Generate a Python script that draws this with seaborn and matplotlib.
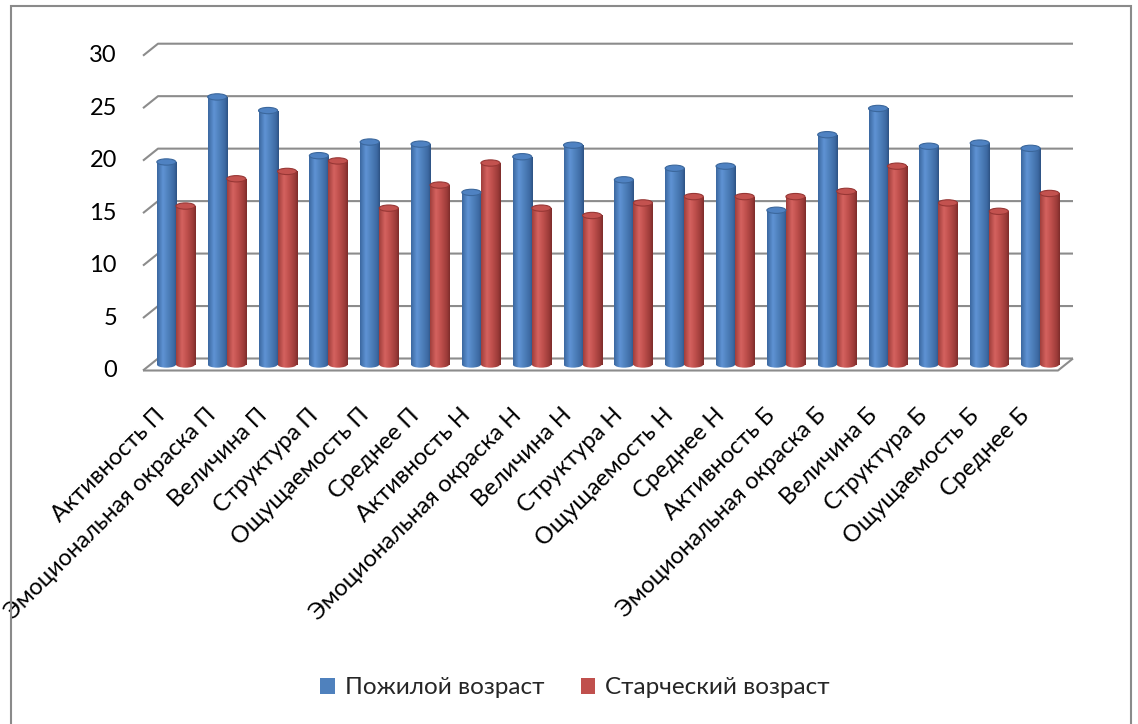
import matplotlib
matplotlib.use("Agg")
import matplotlib.pyplot as plt
import matplotlib.transforms as mtransforms
from matplotlib.colors import LinearSegmentedColormap
from matplotlib.patches import Ellipse, Rectangle, Patch
import numpy as np
import pandas as pd
import seaborn as sns

# ---- data -------------------------------------------------------------
categories = [
    "Активность П", "Эмоциональная окраска П", "Величина П", "Структура П",
    "Ощущаемость П", "Среднее П",
    "Активность Н", "Эмоциональная окраска Н", "Величина Н", "Структура Н",
    "Ощущаемость Н", "Среднее Н",
    "Активность Б", "Эмоциональная окраска Б", "Величина Б", "Структура Б",
    "Ощущаемость Б", "Среднее Б",
]
elderly = [19.3, 25.5, 24.2, 19.9, 21.2, 21.0,
           16.4, 19.8, 20.9, 17.6, 18.7, 18.9,
           14.7, 21.9, 24.4, 20.8, 21.1, 20.6]
senile = [15.1, 17.7, 18.4, 19.4, 14.9, 17.1,
          19.2, 14.9, 14.2, 15.4, 16.0, 16.0,
          16.0, 16.5, 18.9, 15.4, 14.6, 16.3]
series_names = ["Пожилой возраст", "Старческий возраст"]
y_ticks = [0, 5, 10, 15, 20, 25, 30]

base_colors = {series_names[0]: "#4F81BD", series_names[1]: "#C0504D"}
# shading across each cylinder: left rim, highlight, body, shade, right rim
cyl_shades = {
    series_names[0]: ["#3a679f", "#5f93d4", "#4f81bd", "#3d6aa3", "#2d5182"],
    series_names[1]: ["#9e3d3a", "#d4625f", "#c0504d", "#9c3b39", "#7c2c2a"],
}
cap_colors = {series_names[0]: ("#4f82c2", "#3b679c"),
              series_names[1]: ("#c3524f", "#973735")}

df = pd.DataFrame({
    "Показатель": categories * 2,
    "Значение": elderly + senile,
    "Группа": [series_names[0]] * len(categories) + [series_names[1]] * len(categories),
})

# ---- figure -----------------------------------------------------------
sns.set_theme(style="white")
plt.rcParams["font.family"] = ["Lato", "DejaVu Sans"]
FS = 17

W, H, DPI = 1138, 724, 100
fig = plt.figure(figsize=(W / DPI, H / DPI), dpi=DPI)
fig.patch.set_facecolor("white")

ax = fig.add_axes([150.5 / W, 1 - 370.8 / H, 915 / W, (370.8 - 49.7) / H])
sns.barplot(data=df, x="Показатель", y="Значение", hue="Группа",
            palette=base_colors, width=0.75, saturation=1,
            errorbar=None, legend=False, ax=ax)

ax.set_xlim(-0.5, len(categories) - 0.5)
ax.set_ylim(-0.6, 30)
ax.set_xlabel("")
ax.set_ylabel("")
ax.set_xticks([])
ax.set_yticks([])
for s in ax.spines.values():
    s.set_visible(False)
ax.patch.set_alpha(0)

# ---- cylinders --------------------------------------------------------
grad = np.linspace(0, 1, 256).reshape(1, -1)
cmaps = {k: LinearSegmentedColormap.from_list(k, list(zip([0, 0.3, 0.55, 0.85, 1.0], v)))
         for k, v in cyl_shades.items()}
cap_h = 0.6
bars = [p for p in ax.patches if isinstance(p, Rectangle)]
for bar in bars:
    x0, w, h = bar.get_x(), bar.get_width(), bar.get_height()
    fc = np.array(bar.get_facecolor()[:3])
    name = min(base_colors,
               key=lambda k: np.sum((np.array(matplotlib.colors.to_rgb(base_colors[k])) - fc) ** 2))
    bar.set_visible(False)
    body = Rectangle((x0, 0), w, h, transform=ax.transData)
    im = ax.imshow(grad, extent=[x0, x0 + w, 0, h], aspect="auto",
                   cmap=cmaps[name], zorder=3, interpolation="bilinear")
    im.set_clip_path(body)
    bottom = Ellipse((x0 + w / 2, 0), w, cap_h, transform=ax.transData)
    im2 = ax.imshow(grad, extent=[x0, x0 + w, -cap_h, cap_h], aspect="auto",
                    cmap=cmaps[name], zorder=3, interpolation="bilinear")
    im2.set_clip_path(bottom)
    im2.set_clip_box(None)
    face, edge = cap_colors[name]
    ax.add_patch(Ellipse((x0 + w / 2, h), w, cap_h, facecolor=face,
                         edgecolor=edge, lw=0.8, zorder=4))

ax.set_xlim(-0.5, len(categories) - 0.5)
ax.set_ylim(-0.6, 30)

# ---- walls, floor and gridlines (oblique depth) -----------------------
DX, DY = 7.5, 6.0
to_disp = ax.transData.transform
ident = mtransforms.IdentityTransform()


def shifted(x, y, s):
    px, py = to_disp((x, y))
    return px + s * DX, py + s * DY


xl, xr = -0.5, len(categories) - 0.5
grid_kw = dict(color="#8c8c8c", lw=1.5, transform=ident, clip_on=False,
               zorder=1, solid_capstyle="butt")
for v in y_ticks:
    pts = [shifted(xl, v, -1), shifted(xl, v, 1), shifted(xr, v, 1)]
    ax.plot([p[0] for p in pts], [p[1] for p in pts], **grid_kw)
floor = [shifted(xl, 0, -1), shifted(xr, 0, -1), shifted(xr, 0, 1)]
ax.plot([p[0] for p in floor], [p[1] for p in floor], **grid_kw)

# ---- tick labels --------------------------------------------------------
ylab_tr = ax.transData + mtransforms.ScaledTranslation(-(DX + 26) / DPI, -DY / DPI, fig.dpi_scale_trans)
for v in y_ticks:
    ax.text(xl, v, str(v), transform=ylab_tr, ha="right", va="center",
            fontsize=FS, color="black", clip_on=False)

xlab_tr = ax.transData + mtransforms.ScaledTranslation(-14 / DPI, -47.5 / DPI, fig.dpi_scale_trans)
for i, c in enumerate(categories):
    ax.text(i, 0, c, transform=xlab_tr, rotation=45, rotation_mode="anchor",
            ha="right", va="center", fontsize=FS, color="black", clip_on=False)

# ---- legend -----------------------------------------------------------
handles = [Patch(facecolor=base_colors[n], edgecolor="none") for n in series_names]
fig.legend(handles, series_names, loc="center", bbox_to_anchor=(575 / W, 1 - 688 / H),
           ncol=2, frameon=False, fontsize=FS + 0.5, handlelength=0.6, handleheight=0.6,
           handletextpad=0.4, columnspacing=1.5)

# ---- chart border -----------------------------------------------------
fig.add_artist(Rectangle((11 / W, -0.05), (1131 - 11) / W, 1.05 - 6 / H,
                         transform=fig.transFigure, fill=False,
                         edgecolor="#8a8a8a", lw=1.5))

fig.savefig("out.png", dpi=DPI, facecolor="white")
